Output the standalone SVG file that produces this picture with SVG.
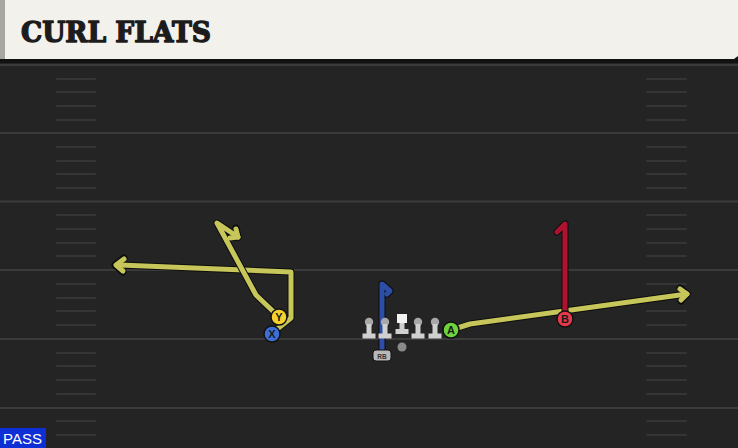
<svg xmlns="http://www.w3.org/2000/svg" width="738" height="448" viewBox="0 0 738 448">
<style>
.yl{stroke:#3b3b3b;stroke-width:2}
.hs{stroke:#353535;stroke-width:2;stroke-linecap:round}
.out{fill:none;stroke:#0d0d0d;stroke-width:7;stroke-linejoin:round;stroke-linecap:round}
.rt{fill:none;stroke-width:5;stroke-linejoin:round;stroke-linecap:round}
.ylw{stroke:#c6c65a}
.lab{font-family:"Liberation Sans",Arial,sans-serif;font-weight:bold;font-size:11px;text-anchor:middle;fill:#1a1a1a}
</style>
<defs>
<g id="lineman"><circle cx="0" cy="-8" r="4.2" fill="#a8a8a8"/><rect x="-2.5" y="-6" width="5" height="10" fill="#d0d0d0"/><rect x="-6.5" y="3.5" width="13" height="5" fill="#d0d0d0"/></g>
</defs>
<rect width="738" height="448" fill="#242424"/>
<g id="field">
<line class="yl" x1="0" y1="65" x2="738" y2="65"/>
<line class="yl" x1="0" y1="133" x2="738" y2="133"/>
<line class="yl" x1="0" y1="201.5" x2="738" y2="201.5"/>
<line class="yl" x1="0" y1="270" x2="738" y2="270"/>
<line class="yl" x1="0" y1="339" x2="738" y2="339"/>
<line class="yl" x1="0" y1="408" x2="738" y2="408"/>
<g class="hs">
<line x1="57" y1="79" x2="95" y2="79"/><line x1="57" y1="92" x2="95" y2="92"/><line x1="57" y1="106" x2="95" y2="106"/><line x1="57" y1="120" x2="95" y2="120"/>
<line x1="57" y1="147" x2="95" y2="147"/><line x1="57" y1="161" x2="95" y2="161"/><line x1="57" y1="174" x2="95" y2="174"/><line x1="57" y1="188" x2="95" y2="188"/>
<line x1="57" y1="215" x2="95" y2="215"/><line x1="57" y1="229" x2="95" y2="229"/><line x1="57" y1="243" x2="95" y2="243"/><line x1="57" y1="256" x2="95" y2="256"/>
<line x1="57" y1="284" x2="95" y2="284"/><line x1="57" y1="298" x2="95" y2="298"/><line x1="57" y1="311" x2="95" y2="311"/><line x1="57" y1="325" x2="95" y2="325"/>
<line x1="57" y1="353" x2="95" y2="353"/><line x1="57" y1="366" x2="95" y2="366"/><line x1="57" y1="380" x2="95" y2="380"/><line x1="57" y1="394" x2="95" y2="394"/>
<line x1="57" y1="421" x2="95" y2="421"/><line x1="57" y1="435" x2="95" y2="435"/>
<line x1="647" y1="79" x2="686" y2="79"/><line x1="647" y1="92" x2="686" y2="92"/><line x1="647" y1="106" x2="686" y2="106"/><line x1="647" y1="120" x2="686" y2="120"/>
<line x1="647" y1="147" x2="686" y2="147"/><line x1="647" y1="161" x2="686" y2="161"/><line x1="647" y1="174" x2="686" y2="174"/><line x1="647" y1="188" x2="686" y2="188"/>
<line x1="647" y1="215" x2="686" y2="215"/><line x1="647" y1="229" x2="686" y2="229"/><line x1="647" y1="243" x2="686" y2="243"/><line x1="647" y1="256" x2="686" y2="256"/>
<line x1="647" y1="284" x2="686" y2="284"/><line x1="647" y1="298" x2="686" y2="298"/><line x1="647" y1="311" x2="686" y2="311"/><line x1="647" y1="325" x2="686" y2="325"/>
<line x1="647" y1="353" x2="686" y2="353"/><line x1="647" y1="366" x2="686" y2="366"/><line x1="647" y1="380" x2="686" y2="380"/><line x1="647" y1="394" x2="686" y2="394"/>
<line x1="647" y1="421" x2="686" y2="421"/><line x1="647" y1="435" x2="686" y2="435"/>
</g>
</g>
<g id="header">
<rect x="0" y="57" width="738" height="6" fill="#121212"/>
<path d="M0 0 H738 V56 L734 59 H0 Z" fill="#f3f1eb"/>
<rect x="0" y="0" width="5" height="59" fill="#a6a6a2"/>
<text x="21" y="42" font-family="'DejaVu Serif',serif" font-weight="bold" font-size="27" fill="#1c1c1c" stroke="#1c1c1c" stroke-width="1.4" stroke-linejoin="round" textLength="190" lengthAdjust="spacingAndGlyphs">CURL FLATS</text>
</g>
<g id="connectors">
<polyline class="out" points="276,330 291,318 291,272 120,265"/>
<polyline class="out" points="124,258 115,265 123,272"/>
<polyline class="rt ylw" points="276,330 291,318 291,272 120,265"/>
<polyline class="rt ylw" points="124,259 116,265 123,271"/>
<polyline class="out" points="279,317 256,295 217,223 238,237"/>
<polyline class="out" points="229,238 238,237 236,228"/>
<polyline class="rt ylw" points="279,317 256,295 217,223 238,237"/>
<polyline class="rt ylw" points="230,238 238,237 236,229"/>
<polyline class="out" points="451,330 470,324 687,294"/>
<polyline class="out" points="680,288 687,294 681,301"/>
<polyline class="rt ylw" points="451,330 470,324 687,294"/>
<polyline class="rt ylw" points="680,289 687,294 681,300"/>
<polyline class="out" points="565,319 565,224 557,232"/>
<polyline class="rt" stroke="#ad1231" points="565,319 565,224 557,232"/>
<polyline class="out" points="382,350 382,284 390,291 387,294"/>
<polyline class="rt" stroke="#2c4ea6" points="382,350 382,284 390,291 387,294"/>
</g>
<g id="line">
<use href="#lineman" x="369" y="330"/>
<use href="#lineman" x="385" y="330"/>
<g id="C"><rect x="397" y="314" width="10" height="9" fill="#f2f2f2"/><rect x="399.5" y="323" width="5" height="7" fill="#d0d0d0"/><rect x="395.5" y="329" width="13" height="5" fill="#d0d0d0"/></g>
<use href="#lineman" x="418" y="330"/>
<use href="#lineman" x="435" y="330"/>
</g>
<g id="QB"><circle cx="402" cy="347" r="4.5" fill="#8a8a8a"/></g>
<g id="RB"><rect x="373" y="350" width="18" height="11" rx="3" fill="#b8b8b8" stroke="#111" stroke-width="1"/><text x="382" y="358.5" font-family="'Liberation Sans',sans-serif" font-size="6.5" font-weight="bold" text-anchor="middle" fill="#333">RB</text></g>
<g id="X"><circle cx="272" cy="334" r="8" fill="#3d6fd6" stroke="#111" stroke-width="1.5"/><text class="lab" x="272" y="338">X</text></g>
<g id="Y"><circle cx="279" cy="317" r="8" fill="#f5d12b" stroke="#111" stroke-width="1.5"/><text class="lab" x="279" y="321">Y</text></g>
<g id="A"><circle cx="451" cy="330" r="8" fill="#6fd43c" stroke="#111" stroke-width="1.5"/><text class="lab" x="451" y="334">A</text></g>
<g id="B"><circle cx="565" cy="319" r="8" fill="#e8394a" stroke="#111" stroke-width="1.5"/><text class="lab" x="565" y="323">B</text></g>
<g id="pass">
<rect x="0" y="428" width="46" height="20" fill="#0e2fd6"/>
<text x="3" y="444" font-family="'Liberation Sans',Arial,sans-serif" font-size="15" fill="#ffffff">PASS</text>
</g>
</svg>
